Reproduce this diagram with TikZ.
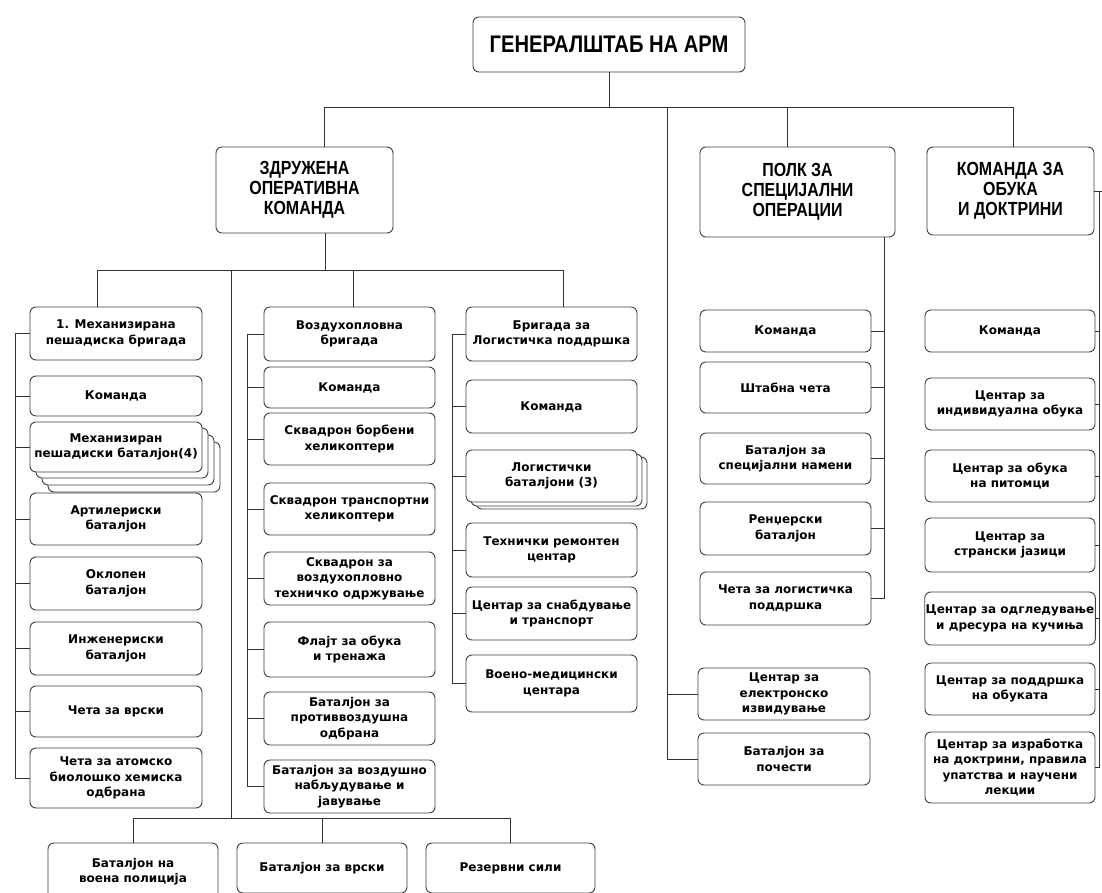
\documentclass[tikz,border=0pt]{standalone}
\usepackage{fontspec}
\setmainfont{DejaVu Sans}
\newfontfamily\hfont[FakeStretch=0.84]{Liberation Sans}
\newfontfamily\bfont{DejaVu Sans}
\tikzset{
  box/.style={draw=black!75, line width=0.9pt, rounded corners=6pt, fill=white, align=center, inner sep=1pt, font=\bfont\bfseries\fontsize{12}{15.5}\selectfont},
  hbox/.style={box, font=\hfont\bfseries\fontsize{19}{20}\selectfont},
  gbox/.style={box, font=\hfont\bfseries\fontsize{24}{26}\selectfont},
  link/.style={draw=black!80, line width=0.8pt},
}
\newcommand\B[7][box]{\node[#1, minimum width={#4-#3}, minimum height={#6-#5}] (#2) at ({(#3+#4)/2},{(#5+#6)/2}) {#7};}
\begin{document}
\begin{tikzpicture}[x=1pt, y=-1pt]
\clip (0,0) rectangle (1102,893);
\fill[white] (0,0) rectangle (1102,893);
% top level
\B[gbox]{gen}{473}{745}{17}{72}{ГЕНЕРАЛШТАБ НА АРМ}
\B[hbox]{zdr}{216}{393}{147}{233}{ЗДРУЖЕНА\\ОПЕРАТИВНА\\КОМАНДА}
\B[hbox]{polk}{700}{895}{147}{237}{ПОЛК ЗА\\СПЕЦИЈАЛНИ\\ОПЕРАЦИИ}
\B[hbox]{kom}{927}{1094}{147}{235}{КОМАНДА ЗА\\ОБУКА\\И ДОКТРИНИ}
% left column
\B{m0}{30}{202}{307}{360}{1. Механизирана\\пешадиска бригада}
\B{m1}{30}{202}{376}{416}{Команда}
\B{m2c}{48}{220}{442}{492}{}
\B{m2b}{42}{214}{435}{485}{}
\B{m2a}{36}{208}{428}{478}{}
\B{m2}{30}{202}{422}{472}{Механизиран\\пешадиски баталјон(4)}
\B{m3}{30}{202}{493}{545}{Артилериски\\баталјон}
\B{m4}{30}{202}{557}{610}{Оклопен\\баталјон}
\B{m5}{30}{202}{622}{675}{Инженериски\\баталјон}
\B{m6}{30}{202}{686}{737}{Чета за врски}
\B{m7}{30}{202}{748}{808}{Чета за атомско\\биолошко хемиска\\одбрана}
% middle column
\B{v0}{264}{435}{307}{361}{Воздухопловна\\бригада}
\B{v1}{264}{435}{367}{408}{Команда}
\B{v2}{264}{435}{413}{465}{Сквадрон борбени\\хеликоптери}
\B{v3}{264}{435}{483}{535}{Сквадрон транспортни\\хеликоптери}
\B{v4}{264}{435}{552}{605}{Сквадрон за\\воздухопловно\\техничко одржување}
\B{v5}{264}{435}{622}{677}{Флајт за обука\\и тренажа}
\B{v6}{264}{435}{692}{745}{Баталјон за\\противвоздушна\\одбрана}
\B{v7}{264}{435}{760}{813}{Баталјон за воздушно\\набљудување и\\јавување}
% right column of ZOK
\B{b0}{466}{637}{307}{361}{Бригада за\\Логистичка поддршка}
\B{b1}{466}{637}{380}{433}{Команда}
\B{b2b}{476}{647}{457}{509}{}
\B{b2a}{471}{642}{454}{506}{}
\B{b2}{466}{637}{450}{502}{Логистички\\баталјони (3)}
\B{b3}{466}{637}{523}{577}{Технички ремонтен\\центар}
\B{b4}{466}{637}{587}{640}{Центар за снабдување\\и транспорт}
\B{b5}{466}{637}{655}{712}{Воено-медицински\\центара}
% POLK column
\B{p1}{700}{871}{310}{352}{Команда}
\B{p2}{700}{871}{362}{413}{Штабна чета}
\B{p3}{700}{871}{433}{484}{Баталјон за\\специјални намени}
\B{p4}{700}{871}{502}{555}{Ренџерски\\баталјон}
\B{p5}{700}{871}{572}{625}{Чета за логистичка\\поддршка}
\B{p6}{698}{870}{668}{720}{Центар за\\електронско\\извидување}
\B{p7}{698}{870}{733}{785}{Баталјон за\\почести}
% KOMANDA column
\B{k1}{925}{1095}{310}{352}{Команда}
\B{k2}{925}{1095}{378}{430}{Центар за\\индивидуална обука}
\B{k3}{925}{1095}{450}{502}{Центар за обука\\на питомци}
\B{k4}{925}{1095}{518}{572}{Центар за\\странски јазици}
\B{k5}{925}{1095}{592}{645}{Центар за одгледување\\и дресура на кучиња}
\B{k6}{925}{1095}{663}{715}{Центар за поддршка\\на обуката}
\B{k7}{925}{1095}{732}{803}{Центар за изработка\\на доктрини, правила\\упатства и научени\\лекции}
% bottom
\B{q1}{48}{218}{843}{900}{Баталјон на\\воена полиција}
\B{q2}{237}{407}{843}{893}{Баталјон за врски}
\B{q3}{426}{595}{843}{893}{Резервни сили}
% connectors: top
\coordinate (J0) at (609,107);
\coordinate (zT) at (324,107);
\coordinate (pT) at (787,107);
\coordinate (kT) at (1013,107);
\coordinate (lv) at (667,107);
\draw[link] (gen.south) -- (J0);
\draw[link] (zT) -- (kT);
\draw[link] (zT) -- (zT |- zdr.north);
\draw[link] (pT) -- (pT |- polk.north);
\draw[link] (kT) -- (kT |- kom.north);
\draw[link] (lv) |- (p7.west);
\draw[link] (lv |- p6.west) -- (p6.west);
% ZOK
\coordinate (zB) at (325,270);
\coordinate (aT) at (97,270);
\coordinate (bT) at (353,270);
\coordinate (cT) at (563,270);
\coordinate (lT) at (231,270);
\coordinate (lB) at (231,818);
\draw[link] (zB |- zdr.south) -- (zB);
\draw[link] (aT) -- (cT);
\draw[link] (aT) -- (aT |- m0.north);
\draw[link] (bT) -- (bT |- v0.north);
\draw[link] (cT) -- (cT |- b0.north);
\draw[link] (lT) -- (lB);
\draw[link] (q1.north) |- (q3.north |- lB) -- (q3.north);
\draw[link] (q2.north) -- (q2.north |- lB);
% column spines
\coordinate (sL) at (15,0);
\draw[link] (sL |- m0.west) -- (sL |- m7.west);
\foreach \n in {m0,m1,m2,m3,m4,m5,m6,m7} \draw[link] (sL |- \n.west) -- (\n.west);
\coordinate (sM) at (247,0);
\draw[link] (sM |- v0.west) -- (sM |- v7.west);
\foreach \n in {v0,v1,v2,v3,v4,v5,v6,v7} \draw[link] (sM |- \n.west) -- (\n.west);
\coordinate (sR) at (452,0);
\draw[link] (sR |- b0.west) -- (sR |- b5.west);
\foreach \n in {b0,b1,b2,b3,b4,b5} \draw[link] (sR |- \n.west) -- (\n.west);
\coordinate (sP) at (884,0);
\draw[link] (sP |- polk.south) -- (sP |- p5.east);
\foreach \n in {p1,p2,p3,p4,p5} \draw[link] (\n.east) -- (sP |- \n.east);
\coordinate (sK) at (1099,0);
\draw[link] (kom.east) -- (1102,0 |- kom.east);
\draw[link] (sK |- kom.east) -- (sK |- k7.east);
\foreach \n in {k1,k2,k3,k4,k5,k6,k7} \draw[link] (\n.east) -- (sK |- \n.east);
\end{tikzpicture}
\end{document}
